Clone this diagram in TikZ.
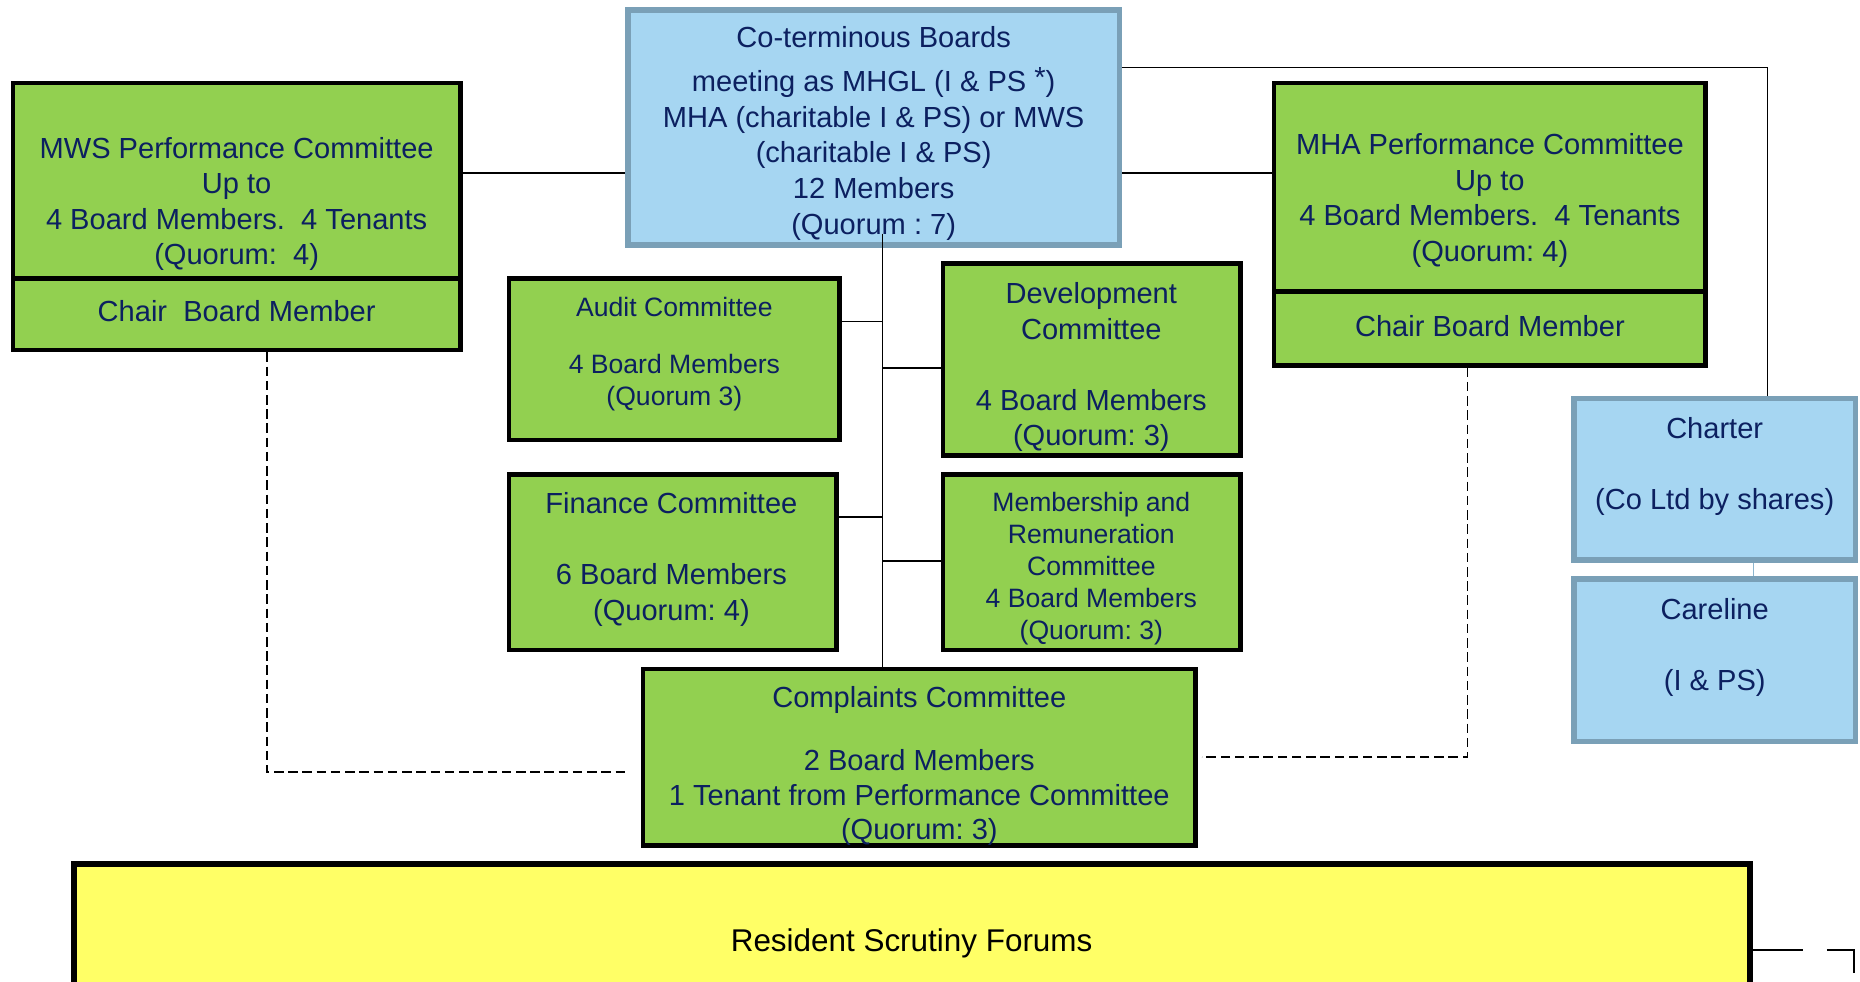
\documentclass[tikz,border=0pt]{standalone}
\usepackage{fontspec}
\setmainfont{Liberation Sans}
\usepackage{xcolor}
\usepackage{tikz}
\frenchspacing

\definecolor{boardblue}{RGB}{166,214,242}
\definecolor{boardedge}{RGB}{122,160,183}
\definecolor{cttgreen}{RGB}{146,208,80}
\definecolor{forumyellow}{RGB}{255,255,102}
\definecolor{labelnavy}{RGB}{12,32,96}

\begin{document}
\begin{tikzpicture}[x=1pt,y=-1pt,
  greenbox/.style={draw=black, line width=4pt, fill=cttgreen, inner sep=0pt},
  bluebox/.style={draw=boardedge, line width=4.5pt, fill=boardblue, inner sep=0pt},
  boxtext/.style={text=labelnavy, align=center, inner sep=0pt, font=\fontsize{24.5}{30}\selectfont},
  smalltext/.style={boxtext, font=\fontsize{22.4}{27}\selectfont},
  conn/.style={draw=black, line width=1.3pt},
  dashconn/.style={draw=black, line width=1.4pt, dash pattern=on 8pt off 4pt}]

\useasboundingbox (0,0) rectangle (1568,827);
\clip (0,0) rectangle (1568,827);

% Boards
\node[bluebox, minimum width=414pt, minimum height=198pt] (coterm) at (736.5,107.5) {};

% Performance committees
\node[greenbox, minimum width=377pt, minimum height=165pt] (mws) at (199.5,152.5) {};
\node[greenbox, minimum width=377pt, minimum height=60pt] (mwschair) at (199.5,265) {};
\node[greenbox, minimum width=364pt, minimum height=176pt] (mha) at (1256,158) {};
\node[greenbox, minimum width=364pt, minimum height=62pt] (mhachair) at (1256,277) {};

% Committees
\node[greenbox, minimum width=279pt, minimum height=136pt] (audit) at (568.5,303) {};
\node[greenbox, minimum width=251pt, minimum height=162pt] (dev) at (920.5,303) {};
\node[greenbox, minimum width=276pt, minimum height=148pt] (finance) at (567,474) {};
\node[greenbox, minimum width=251pt, minimum height=148pt] (member) at (920.5,474) {};
\node[greenbox, minimum width=466pt, minimum height=149pt] (complaints) at (775,638.5) {};

% Forums
\node[draw=black, line width=5pt, fill=forumyellow, minimum width=1413pt, minimum height=131pt] (forums) at (769,794) {};

% Subsidiaries
\node[bluebox, minimum width=237pt, minimum height=136pt] (charter) at (1445.5,404) {};
\node[bluebox, minimum width=237pt, minimum height=137pt] (careline) at (1445.5,556.5) {};

% Connectors
\coordinate (trunk) at (744,197);
\coordinate (forumsend) at (1563,840);
\draw[conn] (mws.east |- 0,146) -- (coterm.west |- 0,146);
\draw[conn] (coterm.east |- 0,146) -- (mha.west |- 0,146);
\draw[conn] (coterm.east |- 0,57) -| (charter.north -| 1490,0);
\draw[conn] (trunk) -- (complaints.north -| trunk);
\draw[conn] (audit.east |- 0,271) -- (trunk |- 0,271);
\draw[conn] (trunk |- 0,310) -- (dev.west |- 0,310);
\draw[conn] (finance.east |- 0,436) -- (trunk |- 0,436);
\draw[conn] (trunk |- 0,473) -- (member.west |- 0,473);
\draw[draw=boardblue!85!black, line width=1.2pt] (charter.south -| 1478,0) -- (careline.north -| 1478,0);
\draw[dashconn, shorten >=13pt] (mwschair.south -| 225,0) |- (complaints.west |- 0,651);
\draw[dashconn, shorten >=3pt] (mhachair.south -| 1237,0) |- (complaints.east |- 0,638);
\draw[conn, dash pattern=on 42pt off 20pt] (forums.east |- 0,801) -| (forumsend);

% Texts
\node[boxtext] (cotermtext) at (736.5,112.5) {Co-terminous Boards\\[7pt]meeting as MHGL (I \& PS \raisebox{4pt}{*})\\MHA (charitable I \& PS) or MWS\\(charitable I \& PS)\\12 Members\\(Quorum : 7)};
\node[boxtext] (mwstext) at (199.5,172) {MWS Performance Committee\\Up to\\4 Board Members.~ 4 Tenants\\(Quorum:~ 4)};
\node[boxtext] (mwschairtext) at (199.5,262.5) {Chair~ Board Member};
\node[boxtext] (mhatext) at (1256,169) {MHA Performance Committee\\Up to\\4 Board Members.~ 4 Tenants\\(Quorum: 4)};
\node[boxtext] (mhachairtext) at (1256,274.5) {Chair Board Member};
\node[smalltext] (audittext) at (568.5,298.5) {Audit Committee\\[21pt]4 Board Members\\(Quorum 3)};
\node[boxtext] (devtext) at (920,309.5) {Development\\Committee\\[30pt]4 Board Members\\(Quorum: 3)};
\node[boxtext] (financetext) at (566,471.5) {Finance Committee\\[30pt]6 Board Members\\(Quorum: 4)};
\node[smalltext] (membertext) at (920,479) {Membership and\\Remuneration\\Committee\\4 Board Members\\(Quorum: 3)};
\node[boxtext, font=\fontsize{24.5}{29}\selectfont] (complaintstext) at (775,646) {Complaints Committee\\[24pt]2 Board Members\\1 Tenant from Performance Committee\\(Quorum: 3)};
\node[boxtext] (chartertext) at (1445.5,393.5) {Charter\\[30pt](Co Ltd by shares)};
\node[boxtext] (carelinetext) at (1445.5,545.5) {Careline\\[30pt](I \& PS)};
\node[boxtext, text=black, font=\fontsize{26.5}{32}\selectfont] (forumstext) at (768.5,795) {Resident Scrutiny Forums};
\end{tikzpicture}
\end{document}
